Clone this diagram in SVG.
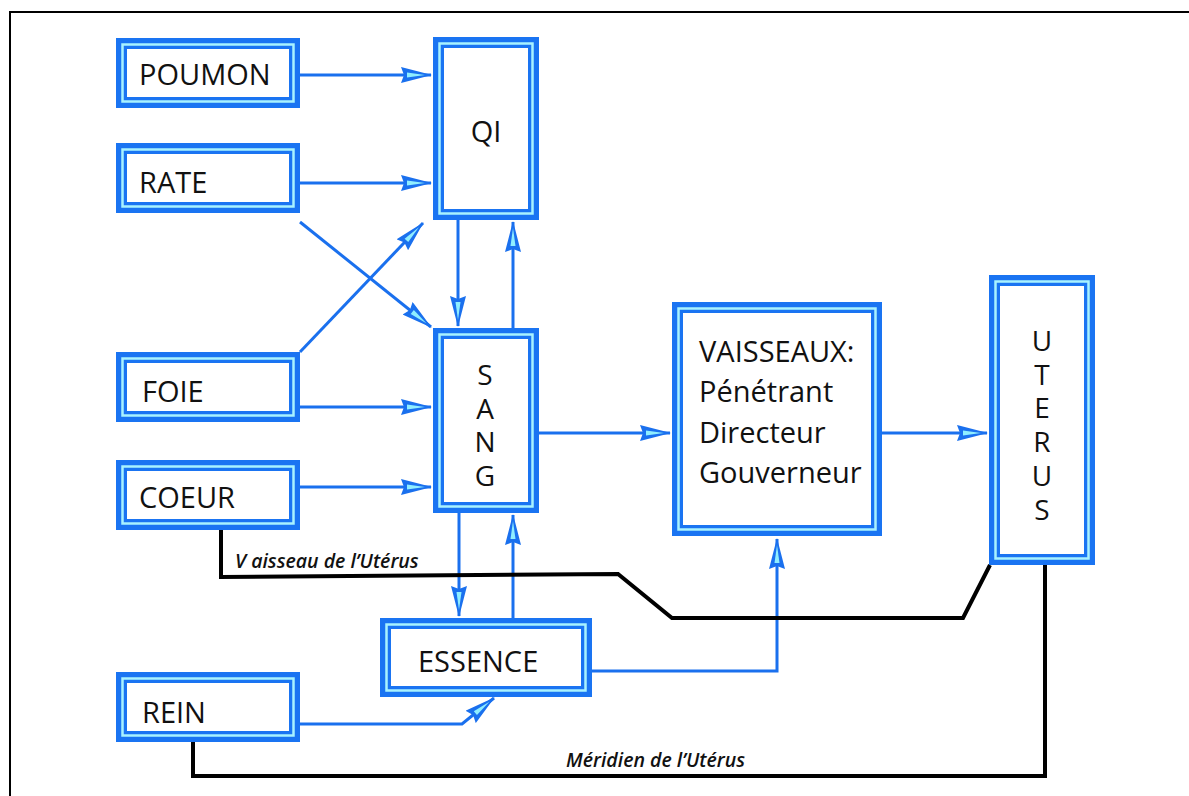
<svg xmlns="http://www.w3.org/2000/svg" width="1189" height="796" viewBox="0 0 1189 796">
<style>
.bo{fill:#fff;stroke:#1a74f2;stroke-width:11}
.bh{fill:none;stroke:#a8f2ff;stroke-width:2.5}
.t{font-family:"Open Sans","Liberation Sans",sans-serif;font-size:29px;fill:#111}
.tc{text-anchor:middle}
.v{writing-mode:vertical-rl;text-orientation:upright;font-size:28px}
.c{fill:none;stroke:#1a70ee;stroke-width:3}
.k{fill:none;stroke:#000;stroke-width:4;stroke-linejoin:miter}
.lb{font-family:"Open Sans","Liberation Sans",sans-serif;font-style:italic;font-weight:600;fill:#111}
</style>
<defs>
<marker id="ah" markerUnits="userSpaceOnUse" viewBox="0 0 31 16" markerWidth="31" markerHeight="16" refX="30" refY="8" orient="auto">
<path d="M0,0 L31,8 L0,16 L3,8 Z" fill="#1a70ee"/>
<path d="M6,5.5 L24,8 L6,10.5 Z" fill="#8feeff"/>
</marker>
</defs>
<path d="M10,796 L10,12 L1189,12" fill="none" stroke="#000" stroke-width="2"/>
<g id="connectors">
<path class="c" d="M300,75 L431,75" marker-end="url(#ah)"/>
<path class="c" d="M300,183 L431,183" marker-end="url(#ah)"/>
<path class="c" d="M300,222 L431,327" marker-end="url(#ah)"/>
<path class="c" d="M300,352 L423,223" marker-end="url(#ah)"/>
<path class="c" d="M300,407 L431,407" marker-end="url(#ah)"/>
<path class="c" d="M300,487 L431,487" marker-end="url(#ah)"/>
<path class="c" d="M458,220 L458,326" marker-end="url(#ah)"/>
<path class="c" d="M513,328 L513,222" marker-end="url(#ah)"/>
<path class="c" d="M459,513 L459,616" marker-end="url(#ah)"/>
<path class="c" d="M513,618 L513,515" marker-end="url(#ah)"/>
<path class="c" d="M539,433 L670,433" marker-end="url(#ah)"/>
<path class="c" d="M882,433 L987,433" marker-end="url(#ah)"/>
<path class="c" d="M592,671 L777,671 L777,539" marker-end="url(#ah)"/>
<path class="c" d="M300,724 L462,724 L494,698" marker-end="url(#ah)"/>
<path class="k" d="M221,530 L221,577 L618,574 L672,618 L963,618 L990,565"/>
<path class="k" d="M193,742 L193,776 L1045,776 L1045,565"/>
<text class="lb" x="235" y="568" font-size="19.5">V aisseau de l’Utérus</text>
<text class="lb" x="566" y="767" font-size="19.5">Méridien de l’Utérus</text>
</g>
<g id="poumon"><rect class="bo" x="121.5" y="43.5" width="173" height="59"/><rect class="bh" x="122.5" y="44.5" width="171" height="57"/><text class="t" x="139" y="85">POUMON</text></g>
<g id="rate"><rect class="bo" x="121.5" y="148.5" width="173" height="59"/><rect class="bh" x="122.5" y="149.5" width="171" height="57"/><text class="t" x="139" y="193">RATE</text></g>
<g id="foie"><rect class="bo" x="121.5" y="357.5" width="173" height="59"/><rect class="bh" x="122.5" y="358.5" width="171" height="57"/><text class="t" x="142" y="402">FOIE</text></g>
<g id="coeur"><rect class="bo" x="121.5" y="465.5" width="173" height="59"/><rect class="bh" x="122.5" y="466.5" width="171" height="57"/><text class="t" x="139" y="508">COEUR</text></g>
<g id="rein"><rect class="bo" x="121.5" y="677.5" width="173" height="59"/><rect class="bh" x="122.5" y="678.5" width="171" height="57"/><text class="t" x="142" y="723">REIN</text></g>
<g id="qi"><rect class="bo" x="438.5" y="42.5" width="95" height="172"/><rect class="bh" x="439.5" y="43.5" width="93" height="170"/><text class="t tc" x="486" y="142">QI</text></g>
<g id="sang"><rect class="bo" x="438.5" y="333.5" width="95" height="174"/><rect class="bh" x="439.5" y="334.5" width="93" height="172"/><text class="t v" x="485" y="355" letter-spacing="-4.3">SANG</text></g>
<g id="vaisseaux"><rect class="bo" x="677.5" y="307.5" width="199" height="223"/><rect class="bh" x="678.5" y="308.5" width="197" height="221"/><text class="t"><tspan x="699" y="362">VAISSEAUX:</tspan><tspan x="699" y="402">Pénétrant</tspan><tspan x="699" y="443">Directeur</tspan><tspan x="699" y="483">Gouverneur</tspan></text></g>
<g id="uterus"><rect class="bo" x="994.5" y="280.5" width="95" height="279"/><rect class="bh" x="995.5" y="281.5" width="93" height="277"/><text class="t v" x="1042" y="321" letter-spacing="-4.3">UTERUS</text></g>
<g id="essence"><rect class="bo" x="385.5" y="623.5" width="201" height="68"/><rect class="bh" x="386.5" y="624.5" width="199" height="66"/><text class="t" x="418" y="672">ESSENCE</text></g>
</svg>
